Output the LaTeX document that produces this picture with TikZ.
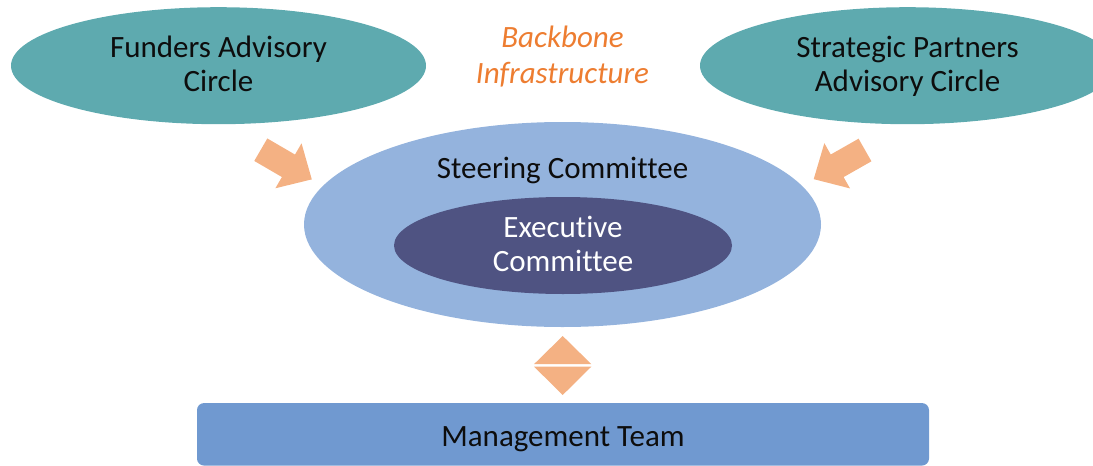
\documentclass[tikz,border=0pt]{standalone}
\usepackage{fontspec}
\setmainfont[Ligatures=NoCommon]{Carlito}
\usetikzlibrary{shapes.geometric}

\definecolor{circleteal}{HTML}{5EAAAF}
\definecolor{steerblue}{HTML}{94B3DD}
\definecolor{execblue}{HTML}{4F5382}
\definecolor{teamblue}{HTML}{7099D0}
\definecolor{arroworange}{HTML}{F4B183}
\definecolor{titleorange}{HTML}{ED7D31}
\definecolor{inktext}{HTML}{0D0D0D}

\tikzset{
  bigfont/.style={font=\fontsize{31}{34}\selectfont},
  oval/.style={ellipse, inner sep=0pt, draw=none},
  advisory/.style={oval, fill=circleteal, minimum width=415pt, minimum height=117pt},
  label/.style={bigfont, text=inktext, align=center, inner sep=0pt},
  pics/blockarrow/.style={code={
    % shaft 26 wide, head 52 wide, total length 59, head length 27
    \fill[arroworange] (0,-13) -- (32,-13) -- (32,-26) -- (59,0)
      -- (32,26) -- (32,13) -- (0,13) -- cycle;
  }}
}

\begin{document}
\begin{tikzpicture}[x=1pt, y=-1pt]
  \useasboundingbox (0,0) rectangle (1093,466);
  \clip (0,0) rectangle (1093,466);

  % advisory circles
  \node[advisory] (funders) at (218.5,65.7) {};
  \node[advisory] (partners) at (907.5,65.7) {};
  \node[label] (fundersText) at (218.5,63.5) {Funders Advisory\\Circle};
  \node[label] (partnersText) at (907.5,66) {Strategic Partners\\Advisory Circle};

  % backbone title
  \node[font=\fontsize{31}{36}\selectfont, text=titleorange, align=center, inner sep=0pt] (backbone)
    at (562.5,57) {\itshape Backbone\\\itshape Infrastructure};

  % steering committee with executive committee inside
  \node[oval, fill=steerblue, minimum width=517pt, minimum height=205pt] (steering) at (562.5,224.5) {};
  \node[label] (steeringText) at (562.5,170) {Steering Committee};
  \node[oval, fill=execblue, minimum width=338pt, minimum height=97pt] (exec) at (563,245.5) {};
  \node[label, text=white] (execText) at (563,243.5) {Executive\\Committee};

  % management team bar
  \node[rectangle, rounded corners=7pt, fill=teamblue, minimum width=732pt, minimum height=62.5pt,
        inner sep=0pt] (team) at (563,434.3) {};
  \node[label] (teamText) at (563,439) {Management Team};

  % block arrows from the advisory circles into the steering committee
  \pic[rotate=-30.2] at (260.8,149.7) {blockarrow};
  \pic[rotate=-150.4] at (865,150) {blockarrow};

  % two-way link between steering committee and management team
  \fill[arroworange] (562.7,336) -- (591.4,364.2) -- (534,364.2) -- cycle;
  \fill[arroworange] (534,366.6) -- (591.4,366.6) -- (562.7,395) -- cycle;
\end{tikzpicture}
\end{document}
